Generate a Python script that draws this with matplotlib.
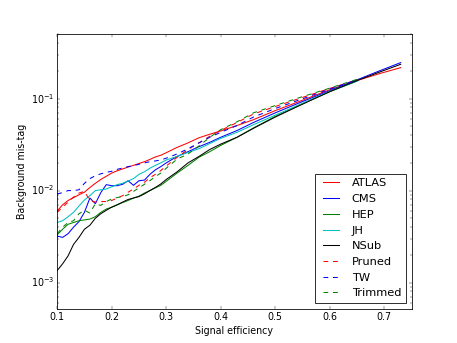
import matplotlib
matplotlib.use("Agg")
import matplotlib.pyplot as plt

plt.style.use("classic")

efficiency = [0.10, 0.11, 0.12, 0.13, 0.14, 0.15, 0.16, 0.17, 0.18, 0.19, 0.20,
              0.21, 0.22, 0.23, 0.24, 0.25, 0.26, 0.27, 0.28, 0.29, 0.30,
              0.32, 0.34, 0.36, 0.38, 0.40, 0.43, 0.46, 0.50, 0.55, 0.60, 0.65,
              0.69, 0.73]

atlas = [6.0e-3, 7.0e-3, 7.8e-3, 8.4e-3, 9.0e-3, 9.6e-3, 1.08e-2, 1.2e-2, 1.32e-2, 1.43e-2, 1.55e-2,
         1.64e-2, 1.72e-2, 1.8e-2, 1.88e-2, 1.97e-2, 2.06e-2, 2.18e-2, 2.32e-2, 2.42e-2, 2.58e-2,
         2.95e-2, 3.3e-2, 3.75e-2, 4.1e-2, 4.45e-2, 5.1e-2, 5.9e-2, 7.4e-2, 9.6e-2, 1.25e-1, 1.57e-1,
         1.86e-1, 2.17e-1]

cms = [3.2e-3, 3.1e-3, 3.4e-3, 4.0e-3, 4.6e-3, 5.8e-3, 8.3e-3, 7.2e-3, 9.5e-3, 1.16e-2, 1.13e-2,
       1.13e-2, 1.17e-2, 1.28e-2, 1.14e-2, 1.28e-2, 1.3e-2, 1.5e-2, 1.68e-2, 1.82e-2, 2.0e-2,
       2.35e-2, 2.65e-2, 3.0e-2, 3.35e-2, 3.8e-2, 4.5e-2, 5.5e-2, 7.0e-2, 9.3e-2, 1.22e-1, 1.6e-1,
       1.99e-1, 2.46e-1]

hep = [3.3e-3, 3.8e-3, 4.3e-3, 4.5e-3, 4.7e-3, 4.8e-3, 4.9e-3, 5.2e-3, 5.8e-3, 6.3e-3, 6.6e-3,
       7.0e-3, 7.4e-3, 7.8e-3, 8.3e-3, 8.7e-3, 9.4e-3, 1.0e-2, 1.07e-2, 1.14e-2, 1.26e-2,
       1.55e-2, 1.88e-2, 2.3e-2, 2.65e-2, 3.1e-2, 3.8e-2, 4.8e-2, 6.4e-2, 8.8e-2, 1.19e-1, 1.55e-1]

jh = [4.5e-3, 4.7e-3, 5.2e-3, 5.8e-3, 6.8e-3, 7.9e-3, 8.8e-3, 1.0e-2, 1.02e-2, 1.04e-2, 1.1e-2,
      1.16e-2, 1.2e-2, 1.27e-2, 1.35e-2, 1.5e-2, 1.6e-2, 1.75e-2, 1.88e-2, 2.0e-2, 2.15e-2,
      2.35e-2, 2.6e-2, 2.85e-2, 3.25e-2, 3.7e-2, 4.3e-2, 5.2e-2, 6.6e-2, 8.9e-2, 1.2e-1, 1.55e-1]

nsub = [1.35e-3, 1.6e-3, 1.95e-3, 2.6e-3, 3.1e-3, 3.8e-3, 4.2e-3, 5.0e-3, 5.6e-3, 6.1e-3, 6.6e-3,
        7.0e-3, 7.5e-3, 8.0e-3, 8.3e-3, 8.6e-3, 9.2e-3, 1.0e-2, 1.08e-2, 1.18e-2, 1.32e-2,
        1.6e-2, 2.0e-2, 2.35e-2, 2.8e-2, 3.2e-2, 3.8e-2, 4.75e-2, 6.3e-2, 8.7e-2, 1.19e-1, 1.57e-1,
        1.93e-1, 2.36e-1]

pruned = [5.8e-3, 6.6e-3, 7.5e-3, 8.5e-3, 9.4e-3, 9.8e-3, 7.8e-3, 7.5e-3, 7.6e-3, 7.6e-3, 7.8e-3,
          8.3e-3, 8.8e-3, 9.6e-3, 1.04e-2, 1.14e-2, 1.23e-2, 1.38e-2, 1.5e-2, 1.65e-2, 1.85e-2,
          2.3e-2, 2.8e-2, 3.3e-2, 3.9e-2, 4.5e-2, 5.5e-2, 6.8e-2, 8.2e-2, 1.03e-1, 1.29e-1, 1.6e-1]

tw = [9.2e-3, 9.5e-3, 1.0e-2, 1.0e-2, 1.02e-2, 1.2e-2, 1.35e-2, 1.45e-2, 1.52e-2, 1.58e-2, 1.62e-2,
      1.7e-2, 1.76e-2, 1.82e-2, 1.87e-2, 1.93e-2, 2.0e-2, 2.06e-2, 2.1e-2, 2.15e-2, 2.25e-2,
      2.5e-2, 2.85e-2, 3.3e-2, 3.8e-2, 4.3e-2, 5.1e-2, 6.3e-2, 7.8e-2, 9.95e-2, 1.27e-1, 1.6e-1]

trimmed = [3.4e-3, 4.0e-3, 4.5e-3, 4.7e-3, 5.6e-3, 6.1e-3, 5.7e-3, 7.2e-3, 6.9e-3, 7.6e-3, 8.1e-3,
           8.4e-3, 8.6e-3, 9.0e-3, 9.8e-3, 1.07e-2, 1.17e-2, 1.28e-2, 1.42e-2, 1.55e-2, 1.75e-2,
           2.2e-2, 2.5e-2, 3.05e-2, 3.8e-2, 4.6e-2, 5.6e-2, 7.0e-2, 8.4e-2, 1.05e-1, 1.3e-1, 1.62e-1]

series = [
    ("ATLAS", atlas, "r", "-"),
    ("CMS", cms, "b", "-"),
    ("HEP", hep, "g", "-"),
    ("JH", jh, "c", "-"),
    ("NSub", nsub, "k", "-"),
    ("Pruned", pruned, "r", "--"),
    ("TW", tw, "b", "--"),
    ("Trimmed", trimmed, "g", "--"),
]

fig = plt.figure(figsize=(8, 6), dpi=57.17)
ax = fig.add_subplot(111)
for name, vals, col, ls in series:
    ax.plot(efficiency[:len(vals)], vals, color=col, linestyle=ls, linewidth=1.3, label=name)

ax.set_yscale("log")
ax.set_xlim(0.1, 0.75)
ax.set_ylim(5.2e-4, 0.5)
ax.set_xticks([0.1, 0.2, 0.3, 0.4, 0.5, 0.6, 0.7])
ax.set_xlabel("Signal efficiency")
ax.set_ylabel("Background mis-tag")
ax.legend(loc="lower right")

fig.savefig("out.png", dpi=57.17)
